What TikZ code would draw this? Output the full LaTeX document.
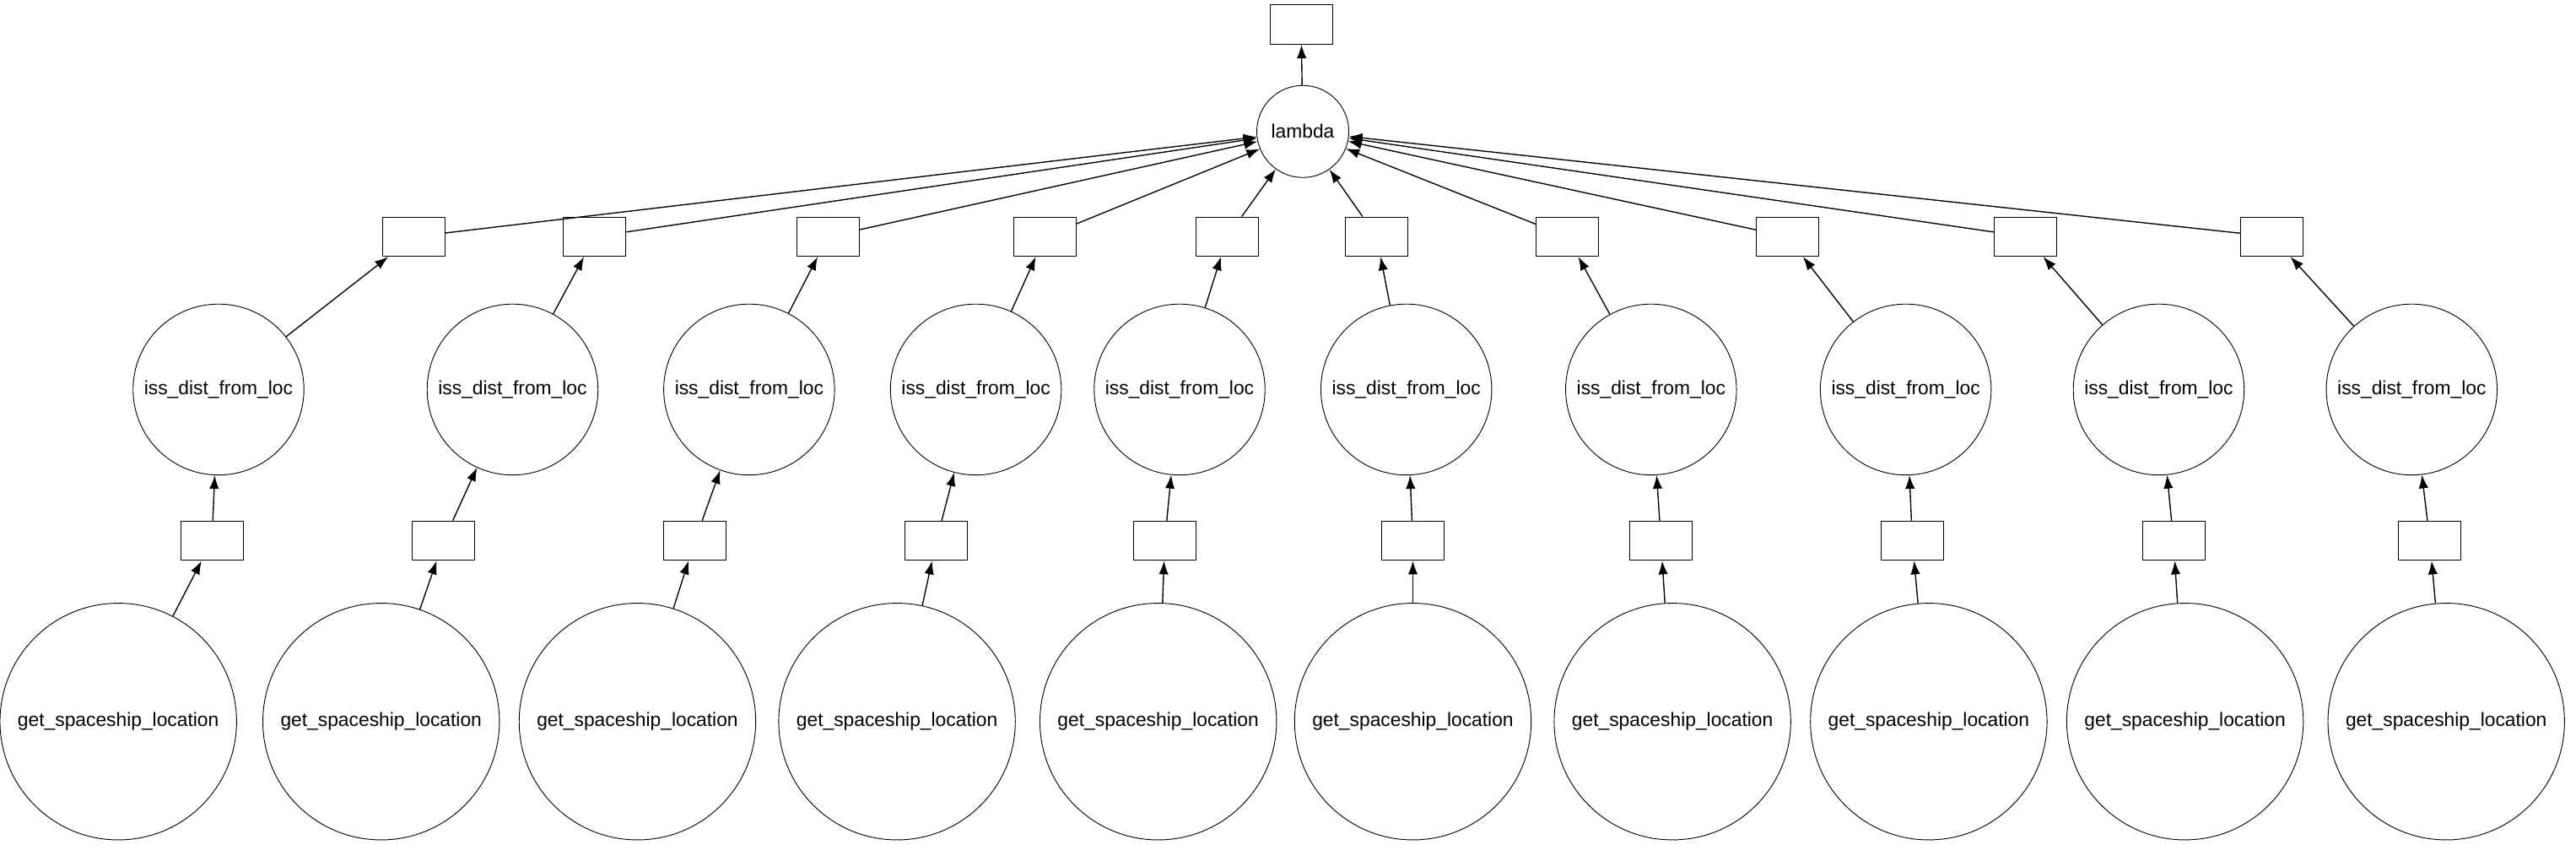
\documentclass[tikz,border=0pt]{standalone}
\usepackage{fontspec}
\setmainfont{Liberation Sans}
\usetikzlibrary{arrows.meta}
\tikzset{
  task/.style={draw, circle, inner sep=0pt, font=\fontsize{10}{12}\selectfont},
  data/.style={draw, rectangle, minimum width=1.14cm, minimum height=0.72cm, inner sep=0pt},
  dep/.style={-{Latex[length=7pt,width=5pt]}, line width=0.6pt}
}
\begin{document}
\begin{tikzpicture}[x=0.03cm, y=-0.03cm]
	\useasboundingbox (0,0) rectangle (1568,514);
	% Top:
	\node[data] (out) at (792,15) {};
	\node[task, minimum size=1.68cm] (lambda) at (793,80) {lambda};
	\draw[dep] (lambda) -- (out);

	% Chains:
	\foreach \i/\gx/\bx/\fx/\tx in {1/72/129/133/252, 2/232/270/312/362, 3/388/423/456/504,
		4/546/570/594/636, 5/705/709/718/747, 6/860/860/856/838, 7/1018/1011/1005/954,
		8/1174/1164/1160/1088, 9/1330/1323/1314/1233, 10/1489/1479/1468/1383} {
		\node[task, minimum size=4.32cm] (g\i) at (\gx,439) {get\_spaceship\_location};
		\node[data] (b\i) at (\bx,329) {};
		\node[task, minimum size=3.12cm] (f\i) at (\fx,237) {iss\_dist\_from\_loc};
		\node[data] (t\i) at (\tx,144) {};
		\draw[dep] (g\i) -- (b\i);
		\draw[dep] (b\i) -- (f\i);
		\draw[dep] (f\i) -- (t\i);
		\draw[dep] (t\i) -- (lambda);
	}
\end{tikzpicture}
\end{document}
